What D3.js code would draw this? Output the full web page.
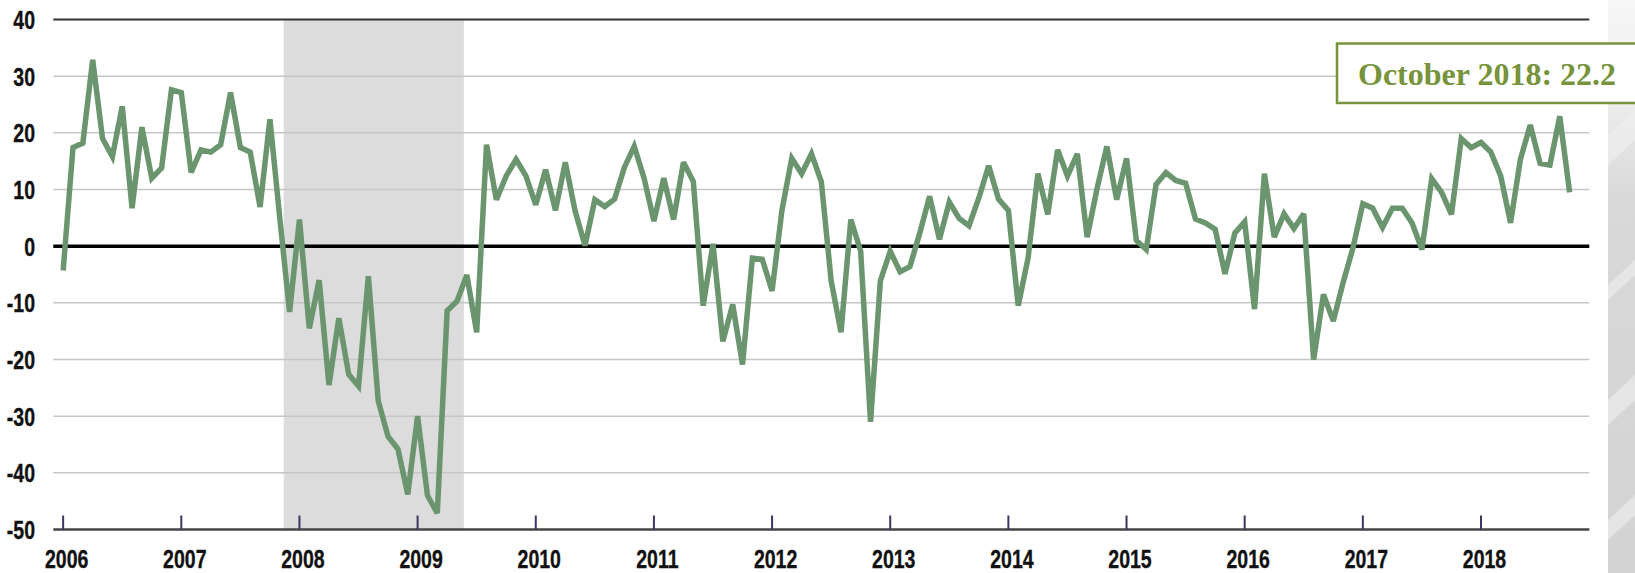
<!DOCTYPE html>
<html>
<head>
<meta charset="utf-8">
<script src="https://cdn.jsdelivr.net/npm/d3@7"></script>
<style>
body { margin: 0; background: #fff; }
.tick-label { font-family: "Liberation Sans", Arial, sans-serif; font-weight: bold; font-size: 25px; fill: #111; stroke: #111; stroke-width: 0.35px; }
.callout { font-family: "Liberation Serif", "Times New Roman", serif; font-weight: bold; font-size: 32px; fill: #77933c; }
</style>
</head>
<body>
<script>
var swidth = 1635,
    sheight = 573,
    margin = {top: 19.5, right: 45.7, bottom: 43.5, left: 53.3},
    width = swidth - margin.left - margin.right,
    height = sheight - margin.top - margin.bottom;

var narrow = 0.78; // the slide uses a condensed bold face

// monthly index readings, Jan 2006 .. Oct 2018
var years = ["2006", "2007", "2008", "2009", "2010", "2011", "2012",
             "2013", "2014", "2015", "2016", "2017", "2018"];
var yTicks = [40, 30, 20, 10, 0, -10, -20, -30, -40, -50];
var values = [
  -4.3, 17.4, 18.2, 32.9, 19.0, 15.8, 24.7, 6.7, 21.0, 12.0, 13.8, 27.6,
  27.1, 13.0, 17.0, 16.6, 17.9, 27.1, 17.4, 16.6, 6.9, 22.4, 5.0, -11.6,
  4.7, -14.5, -6.0, -24.5, -12.7, -22.6, -24.7, -5.3, -27.3, -33.6, -35.8, -43.8,
  -30.0, -44.0, -47.1, -11.4, -9.7, -5.1, -15.2, 17.9, 8.2, 12.4, 15.3, 12.4,
  7.3, 13.5, 6.3, 14.8, 6.2, 0.1, 8.2, 7.0, 8.3, 13.9, 17.6, 12.0,
  4.4, 12.0, 4.7, 14.8, 11.4, -10.5, 0.4, -16.8, -10.3, -20.9, -2.1, -2.3,
  -7.9, 6.3, 15.5, 12.8, 16.3, 11.4, -6.1, -15.2, 4.7, -0.9, -31.0, -6.1,
  -0.9, -4.5, -3.6, 2.3, 8.8, 1.2, 7.8, 4.9, 3.6, 8.5, 14.2, 8.3,
  6.3, -10.5, -2.1, 12.8, 5.6, 17.0, 12.4, 16.3, 1.6, 10.1, 17.6, 8.2,
  15.5, 1.0, -0.6, 10.9, 13.0, 11.6, 11.1, 4.8, 4.1, 3.0, -4.9, 2.3,
  4.3, -11.1, 12.8, 1.6, 5.7, 3.1, 5.7, -20.0, -8.5, -13.2, -6.4, -0.3,
  7.5, 6.7, 3.3, 6.7, 6.7, 4.1, -0.6, 11.9, 9.5, 5.6, 19.0, 17.4,
  18.3, 16.6, 12.4, 4.1, 15.3, 21.4, 14.6, 14.3, 22.9, 9.5
];
var recession = ["2007-12", "2009-06"];
var latestLabel = "October 2018";
var latestValue = 22.2;

function monthIndex(s) {
  var p = s.split("-");
  return (+p[0] - 2006) * 12 + (+p[1] - 1);
}

var svg = d3.select("body").append("svg")
    .attr("width", swidth)
    .attr("height", sheight);

var x = d3.scaleLinear()
    .domain([-1, 155])
    .range([margin.left, margin.left + width]);

var y = d3.scaleLinear()
    .domain([-50, 40])
    .range([margin.top + height, margin.top]);

drawPhoto();
drawChart();
drawCallout();

function drawPhoto() {
  // grey photo strip at the right edge of the slide
  var g = svg.append("g");
  var grad = svg.append("defs").append("linearGradient")
      .attr("id", "photo")
      .attr("x1", 0).attr("y1", 0).attr("x2", 0).attr("y2", 1);
  grad.append("stop").attr("offset", "0%").attr("stop-color", "#f7f7f7");
  grad.append("stop").attr("offset", "18%").attr("stop-color", "#ececec");
  grad.append("stop").attr("offset", "35%").attr("stop-color", "#d9d9d9");
  grad.append("stop").attr("offset", "100%").attr("stop-color", "#d3d3d3");
  g.append("rect")
      .attr("x", 1608).attr("y", 0)
      .attr("width", swidth - 1608).attr("height", sheight)
      .attr("fill", "url(#photo)");
  var streaks = [[135, 165], [285, 300], [400, 425], [520, 540]];
  g.selectAll("path.streak")
    .data(streaks)
    .enter().append("path")
      .attr("class", "streak")
      .attr("d", function(d) { return "M1608," + d[0] + "L1635," + (d[0] - 25) + "L1635," + (d[1] - 25) + "L1608," + d[1] + "Z"; })
      .attr("fill", "#f0f0f0")
      .attr("opacity", 0.6);
}

function drawChart() {
  var r0 = monthIndex(recession[0]) - 0.6,
      r1 = monthIndex(recession[1]) - 0.3;

  svg.append("rect")
      .attr("x", x(r0))
      .attr("y", y(40))
      .attr("width", x(r1) - x(r0))
      .attr("height", y(-50) - y(40))
      .attr("fill", "#dcdcdc");

  // gridlines
  svg.append("g")
    .selectAll("line")
    .data(yTicks.filter(function(d) { return d !== 0 && d !== 40 && d !== -50; }))
    .enter().append("line")
      .attr("x1", x.range()[0])
      .attr("x2", x.range()[1])
      .attr("y1", function(d) { return y(d); })
      .attr("y2", function(d) { return y(d); })
      .attr("stroke", "#c6c6c6")
      .attr("stroke-width", 1.5);

  svg.append("line")
      .attr("x1", x.range()[0]).attr("x2", x.range()[1])
      .attr("y1", y(40)).attr("y2", y(40))
      .attr("stroke", "#333").attr("stroke-width", 2);

  svg.append("line")
      .attr("x1", x.range()[0]).attr("x2", x.range()[1])
      .attr("y1", y(-50)).attr("y2", y(-50))
      .attr("stroke", "#444").attr("stroke-width", 2.5);

  svg.append("line")
      .attr("x1", x.range()[0]).attr("x2", x.range()[1])
      .attr("y1", y(0)).attr("y2", y(0))
      .attr("stroke", "#000").attr("stroke-width", 3.5);

  // year ticks, pointing up from the bottom axis
  svg.append("g")
    .selectAll("line")
    .data(years)
    .enter().append("line")
      .attr("x1", function(d, i) { return x(i * 12); })
      .attr("x2", function(d, i) { return x(i * 12); })
      .attr("y1", y(-50))
      .attr("y2", y(-50) - 14)
      .attr("stroke", "#3d3566")
      .attr("stroke-width", 2);

  svg.append("g")
    .selectAll("text")
    .data(years)
    .enter().append("text")
      .attr("class", "tick-label")
      .attr("transform", function(d, i) { return "translate(" + (x(i * 12) + 3.5) + ",568) scale(" + narrow + ",1)"; })
      .attr("text-anchor", "middle")
      .text(function(d) { return d; });

  svg.append("g")
    .selectAll("text")
    .data(yTicks)
    .enter().append("text")
      .attr("class", "tick-label")
      .attr("transform", function(d) { return "translate(35," + (y(d) + 9.5) + ") scale(" + narrow + ",1)"; })
      .attr("text-anchor", "end")
      .text(function(d) { return d; });

  var line = d3.line()
      .x(function(d, i) { return x(i); })
      .y(function(d) { return y(d); });

  svg.append("path")
      .datum(values)
      .attr("d", line)
      .attr("fill", "none")
      .attr("stroke", "#6a956f")
      .attr("stroke-width", 5.5)
      .attr("stroke-linejoin", "miter")
      .attr("stroke-miterlimit", 3);
}

function drawCallout() {
  svg.append("rect")
      .attr("x", 1337)
      .attr("y", 43.5)
      .attr("width", 320)
      .attr("height", 59.5)
      .attr("fill", "#fff")
      .attr("stroke", "#77933c")
      .attr("stroke-width", 2.5);

  svg.append("text")
      .attr("class", "callout")
      .attr("x", 1358)
      .attr("y", 85)
      .text(latestLabel + ": " + latestValue);
}
</script>
</body>
</html>
